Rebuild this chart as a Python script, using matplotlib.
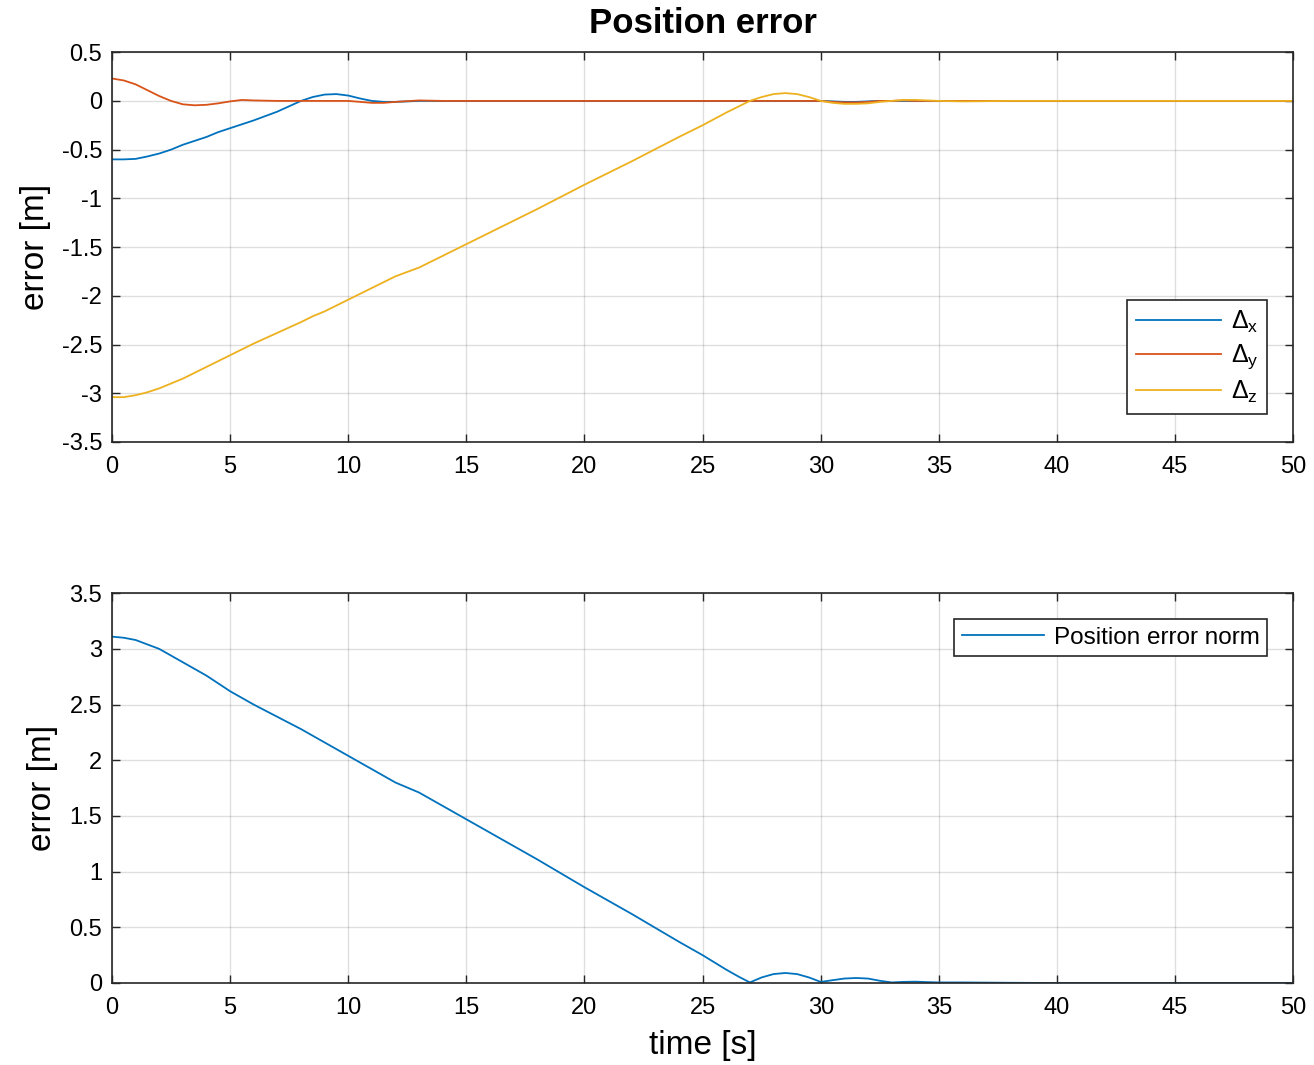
import matplotlib.pyplot as plt

plt.rcParams['font.family'] = ['Liberation Sans', 'DejaVu Sans']
plt.rcParams['mathtext.fontset'] = 'custom'
plt.rcParams['mathtext.rm'] = 'Liberation Sans'
plt.rcParams['mathtext.it'] = 'Liberation Sans'

# time samples [s]
t = [0, 0.5, 1, 1.5, 2, 2.5, 3, 3.5, 4, 4.5, 5, 5.5, 6, 7, 8, 8.5, 9, 9.5, 10,
     10.5, 11, 11.5, 12, 13, 14, 15, 16, 18, 20, 22, 24, 25, 26, 26.5, 27,
     27.5, 28, 28.5, 29, 29.5, 30, 30.5, 31, 31.5, 32, 32.5, 33, 33.5, 34,
     34.5, 35, 36, 38, 40, 45, 50]

dx = [-0.60, -0.60, -0.595, -0.57, -0.54, -0.50, -0.45, -0.41, -0.37, -0.32,
      -0.28, -0.24, -0.20, -0.11, 0.0, 0.04, 0.065, 0.07, 0.055, 0.025, 0.0,
      -0.01, -0.01, 0.0, 0.0, 0.0, 0.0, 0.0, 0.0, 0.0, 0.0, 0.0, 0.0, 0.0, 0.0,
      0.0, 0.0, 0.0, 0.0, 0.0, 0.0, -0.005, -0.01, -0.01, -0.005, 0.0, 0.0,
      0.0, 0.0, 0.0, 0.0, 0.0, 0.0, 0.0, 0.0, 0.0]

dy = [0.23, 0.21, 0.17, 0.11, 0.05, 0.0, -0.035, -0.045, -0.04, -0.025,
      -0.005, 0.01, 0.005, 0.0, 0.0, 0.0, 0.0, 0.0, 0.0, -0.01, -0.02, -0.02,
      -0.01, 0.005, 0.0, 0.0, 0.0, 0.0, 0.0, 0.0, 0.0, 0.0, 0.0, 0.0, 0.0,
      0.0, 0.0, 0.0, 0.0, 0.0, 0.0, -0.01, -0.015, -0.015, -0.01, 0.0, 0.0,
      0.005, 0.0, 0.0, 0.0, 0.0, 0.0, 0.0, 0.0, 0.0]

dz = [-3.04, -3.04, -3.02, -2.99, -2.95, -2.90, -2.85, -2.79, -2.73, -2.67,
      -2.61, -2.55, -2.49, -2.38, -2.27, -2.21, -2.16, -2.10, -2.04, -1.98,
      -1.92, -1.86, -1.80, -1.71, -1.59, -1.47, -1.35, -1.11, -0.86, -0.62,
      -0.37, -0.25, -0.12, -0.06, 0.0, 0.04, 0.07, 0.08, 0.07, 0.04, 0.0,
      -0.02, -0.03, -0.03, -0.025, -0.01, 0.0, 0.01, 0.01, 0.005, 0.0,
      -0.005, 0.0, 0.0, 0.0, 0.0]

err_norm = [3.11, 3.10, 3.08, 3.04, 3.00, 2.94, 2.88, 2.82, 2.76, 2.69, 2.62,
            2.56, 2.50, 2.39, 2.28, 2.22, 2.16, 2.10, 2.04, 1.98, 1.92, 1.86,
            1.80, 1.71, 1.59, 1.47, 1.35, 1.11, 0.86, 0.62, 0.37, 0.25, 0.12,
            0.06, 0.005, 0.05, 0.08, 0.09, 0.08, 0.05, 0.01, 0.025, 0.04,
            0.045, 0.04, 0.02, 0.005, 0.01, 0.012, 0.008, 0.005, 0.005, 0.002,
            0.0, 0.0, 0.0]

c_blue = '#0072BD'
c_red = '#D95319'
c_yel = '#EDB120'

fig = plt.figure(figsize=(13.14, 10.65), dpi=100)
ax1 = fig.add_axes([0.0852, 0.585, 0.899, 0.366])
ax2 = fig.add_axes([0.0852, 0.077, 0.899, 0.366])


def style(ax):
    ax.set_xlim(0, 50)
    ax.set_xticks(range(0, 51, 5))
    ax.grid(True, color='#262626', alpha=0.15, linewidth=1.0)
    ax.tick_params(direction='in', top=True, right=True, labelsize=17,
                   length=6, width=1.0, colors='#262626', labelcolor='black')
    ax.tick_params(axis='x', pad=10)
    ax.tick_params(axis='y', pad=7)
    for s in ax.spines.values():
        s.set_color('#262626')
        s.set_linewidth(1.2)
    ax.set_axisbelow(True)


ax1.plot(t, dx, color=c_blue, lw=1.3, label=r'$\Delta_{\mathrm{x}}$')
ax1.plot(t, dy, color=c_red, lw=1.3, label=r'$\Delta_{\mathrm{y}}$')
ax1.plot(t, dz, color=c_yel, lw=1.3, label=r'$\Delta_{\mathrm{z}}$')
ax1.set_ylim(-3.5, 0.5)
ax1.set_yticks([0.5, 0, -0.5, -1, -1.5, -2, -2.5, -3, -3.5])
ax1.set_yticklabels(['0.5', '0', '-0.5', '-1', '-1.5', '-2', '-2.5', '-3', '-3.5'])
ax1.set_ylabel('error [m]', fontsize=24, labelpad=8)
ax1.set_title('Position error', fontsize=25, fontweight='bold', pad=14)
style(ax1)
leg1 = ax1.legend(loc='lower right', bbox_to_anchor=(0.978, 0.072),
                  fontsize=18, handlelength=3.4, fancybox=False,
                  edgecolor='#262626', framealpha=1, borderpad=0.35,
                  labelspacing=0.3, handletextpad=0.4, borderaxespad=0)
leg1.get_frame().set_linewidth(1.2)

ax2.plot(t, err_norm, color=c_blue, lw=1.3, label='Position error norm')
ax2.set_ylim(0, 3.5)
ax2.set_yticks([0, 0.5, 1, 1.5, 2, 2.5, 3, 3.5])
ax2.set_yticklabels(['0', '0.5', '1', '1.5', '2', '2.5', '3', '3.5'])
ax2.set_ylabel('error [m]', fontsize=24, labelpad=8)
ax2.set_xlabel('time [s]', fontsize=24, labelpad=8)
style(ax2)
leg2 = ax2.legend(loc='upper right', bbox_to_anchor=(0.978, 0.933),
                  fontsize=17.5, handlelength=3.4, fancybox=False,
                  edgecolor='#262626', framealpha=1, borderpad=0.3,
                  handletextpad=0.4, borderaxespad=0)
leg2.get_frame().set_linewidth(1.2)

fig.savefig('out.png', dpi=100)
